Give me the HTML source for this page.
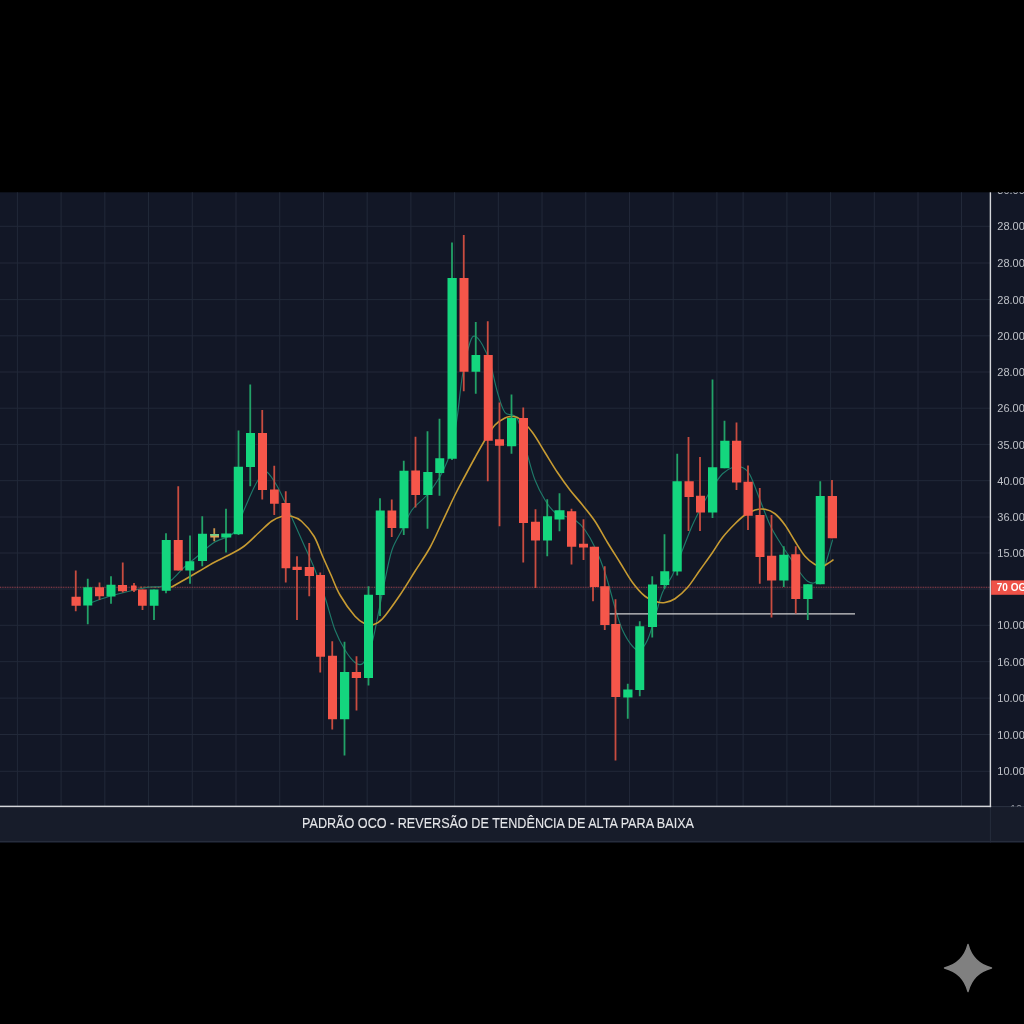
<!DOCTYPE html>
<html lang="pt-BR"><head><meta charset="utf-8"><title>PADRÃO OCO</title>
<style>html,body{margin:0;padding:0;background:#000;}body{width:1024px;height:1024px;overflow:hidden;position:relative;font-family:"Liberation Sans",sans-serif;}svg{position:absolute;left:0;top:0;display:block;will-change:transform}text{-webkit-font-smoothing:antialiased}text{font-family:"Liberation Sans",sans-serif}</style></head><body>
<svg width="1024" height="1024" viewBox="0 0 1024 1024">
<rect x="0" y="0" width="1024" height="1024" fill="#000"/>
<rect x="0" y="192.3" width="1024" height="650.20" fill="#121726"/>
<rect x="0" y="806.4" width="1024" height="36.10" fill="#171c2a"/>
<rect x="0" y="840.90" width="1024" height="1.2" fill="#272d3c"/>
<g stroke="#222939" stroke-width="1" fill="none"><line x1="17.40" y1="192.3" x2="17.40" y2="806.4"/><line x1="61.12" y1="192.3" x2="61.12" y2="806.4"/><line x1="104.84" y1="192.3" x2="104.84" y2="806.4"/><line x1="148.56" y1="192.3" x2="148.56" y2="806.4"/><line x1="192.28" y1="192.3" x2="192.28" y2="806.4"/><line x1="236.00" y1="192.3" x2="236.00" y2="806.4"/><line x1="279.72" y1="192.3" x2="279.72" y2="806.4"/><line x1="323.44" y1="192.3" x2="323.44" y2="806.4"/><line x1="367.16" y1="192.3" x2="367.16" y2="806.4"/><line x1="410.88" y1="192.3" x2="410.88" y2="806.4"/><line x1="454.60" y1="192.3" x2="454.60" y2="806.4"/><line x1="498.32" y1="192.3" x2="498.32" y2="806.4"/><line x1="542.04" y1="192.3" x2="542.04" y2="806.4"/><line x1="585.76" y1="192.3" x2="585.76" y2="806.4"/><line x1="629.48" y1="192.3" x2="629.48" y2="806.4"/><line x1="673.20" y1="192.3" x2="673.20" y2="806.4"/><line x1="716.92" y1="192.3" x2="716.92" y2="806.4"/><line x1="743.10" y1="192.3" x2="743.10" y2="806.4"/><line x1="786.90" y1="192.3" x2="786.90" y2="806.4"/><line x1="830.60" y1="192.3" x2="830.60" y2="806.4"/><line x1="874.30" y1="192.3" x2="874.30" y2="806.4"/><line x1="918.00" y1="192.3" x2="918.00" y2="806.4"/><line x1="961.50" y1="192.3" x2="961.50" y2="806.4"/><line x1="0" y1="226.30" x2="990.4" y2="226.30"/><line x1="0" y1="263.00" x2="990.4" y2="263.00"/><line x1="0" y1="299.60" x2="990.4" y2="299.60"/><line x1="0" y1="335.80" x2="990.4" y2="335.80"/><line x1="0" y1="372.00" x2="990.4" y2="372.00"/><line x1="0" y1="408.20" x2="990.4" y2="408.20"/><line x1="0" y1="444.40" x2="990.4" y2="444.40"/><line x1="0" y1="480.70" x2="990.4" y2="480.70"/><line x1="0" y1="517.00" x2="990.4" y2="517.00"/><line x1="0" y1="553.00" x2="990.4" y2="553.00"/><line x1="0" y1="589.00" x2="990.4" y2="589.00"/><line x1="0" y1="625.30" x2="990.4" y2="625.30"/><line x1="0" y1="661.70" x2="990.4" y2="661.70"/><line x1="0" y1="698.10" x2="990.4" y2="698.10"/><line x1="0" y1="734.50" x2="990.4" y2="734.50"/><line x1="0" y1="771.30" x2="990.4" y2="771.30"/></g>
<line x1="990.4" y1="806.4" x2="990.4" y2="842.5" stroke="#262c3c" stroke-width="1"/>
<line x1="990.4" y1="806.6" x2="1024" y2="806.6" stroke="#2c3242" stroke-width="1"/>
<line x1="0" y1="587.3" x2="990.4" y2="587.3" stroke="#b04a55" stroke-width="1.1" stroke-dasharray="1 0.7" opacity="0.85"/>
<line x1="140" y1="587.2" x2="161" y2="587.2" stroke="#c8653f" stroke-width="1.6" stroke-dasharray="2.2 1.3" opacity="0.65"/>
<path d="M91.50,602.50 C95.25,601.25 104.83,597.50 114.00,595.00 C123.17,592.50 138.58,588.96 146.50,587.50 C154.42,586.04 157.33,587.50 161.50,586.25 C165.67,585.00 167.75,583.12 171.50,580.00 C175.25,576.88 179.42,571.67 184.00,567.50 C188.58,563.33 194.00,559.17 199.00,555.00 C204.00,550.83 208.17,546.25 214.00,542.50 C219.83,538.75 229.00,537.92 234.00,532.50 C239.00,527.08 240.67,517.50 244.00,510.00 C247.33,502.50 251.08,493.33 254.00,487.50 C256.92,481.67 259.33,477.58 261.50,475.00 C263.67,472.42 264.50,470.33 267.00,472.00 C269.50,473.67 273.67,480.33 276.50,485.00 C279.33,489.67 281.08,493.75 284.00,500.00 C286.92,506.25 290.67,515.00 294.00,522.50 C297.33,530.00 300.67,537.50 304.00,545.00 C307.33,552.50 310.50,558.75 314.00,567.50 C317.50,576.25 321.50,587.08 325.00,597.50 C328.50,607.92 331.67,621.25 335.00,630.00 C338.33,638.75 341.67,644.58 345.00,650.00 C348.33,655.42 352.08,660.21 355.00,662.50 C357.92,664.79 360.00,665.83 362.50,663.75 C365.00,661.67 367.92,655.62 370.00,650.00 C372.08,644.38 373.33,637.50 375.00,630.00 C376.67,622.50 378.33,613.33 380.00,605.00 C381.67,596.67 383.00,589.17 385.00,580.00 C387.00,570.83 389.17,558.33 392.00,550.00 C394.83,541.67 398.67,536.67 402.00,530.00 C405.33,523.33 407.83,515.83 412.00,510.00 C416.17,504.17 422.42,500.42 427.00,495.00 C431.58,489.58 436.17,483.00 439.50,477.50 C442.83,472.00 444.83,467.42 447.00,462.00 C449.17,456.58 450.75,452.83 452.50,445.00 C454.25,437.17 455.83,426.67 457.50,415.00 C459.17,403.33 460.42,387.08 462.50,375.00 C464.58,362.92 467.92,348.96 470.00,342.50 C472.08,336.04 472.92,335.83 475.00,336.25 C477.08,336.67 480.00,340.62 482.50,345.00 C485.00,349.38 487.50,354.58 490.00,362.50 C492.50,370.42 495.00,384.17 497.50,392.50 C500.00,400.83 501.67,408.08 505.00,412.50 C508.33,416.92 513.75,411.92 517.50,419.00 C521.25,426.08 524.58,444.83 527.50,455.00 C530.42,465.17 532.08,472.50 535.00,480.00 C537.92,487.50 541.67,494.58 545.00,500.00 C548.33,505.42 551.67,509.79 555.00,512.50 C558.33,515.21 561.67,515.00 565.00,516.25 C568.33,517.50 571.67,517.71 575.00,520.00 C578.33,522.29 581.67,525.42 585.00,530.00 C588.33,534.58 591.67,540.42 595.00,547.50 C598.33,554.58 601.67,562.50 605.00,572.50 C608.33,582.50 612.08,597.92 615.00,607.50 C617.92,617.08 619.58,623.54 622.50,630.00 C625.42,636.46 629.58,642.92 632.50,646.25 C635.42,649.58 637.50,651.04 640.00,650.00 C642.50,648.96 645.00,645.42 647.50,640.00 C650.00,634.58 652.50,625.42 655.00,617.50 C657.50,609.58 659.58,599.58 662.50,592.50 C665.42,585.42 669.17,582.08 672.50,575.00 C675.83,567.92 679.17,558.33 682.50,550.00 C685.83,541.67 689.17,532.50 692.50,525.00 C695.83,517.50 699.17,511.25 702.50,505.00 C705.83,498.75 709.17,492.71 712.50,487.50 C715.83,482.29 719.17,477.08 722.50,473.75 C725.83,470.42 729.17,468.54 732.50,467.50 C735.83,466.46 739.58,466.25 742.50,467.50 C745.42,468.75 747.08,469.58 750.00,475.00 C752.92,480.42 756.67,491.67 760.00,500.00 C763.33,508.33 766.67,517.92 770.00,525.00 C773.33,532.08 776.67,537.08 780.00,542.50 C783.33,547.92 786.67,552.50 790.00,557.50 C793.33,562.50 797.08,568.54 800.00,572.50 C802.92,576.46 805.00,579.58 807.50,581.25 C810.00,582.92 812.50,583.96 815.00,582.50 C817.50,581.04 820.42,576.67 822.50,572.50 C824.58,568.33 825.83,562.92 827.50,557.50 C829.17,552.08 831.67,542.92 832.50,540.00" fill="none" stroke="#1e7a69" stroke-width="1.15" stroke-linejoin="round" stroke-linecap="round"/>
<path d="M171.50,587.00 C173.58,585.83 179.42,582.62 184.00,580.00 C188.58,577.38 194.00,574.17 199.00,571.25 C204.00,568.33 209.00,565.21 214.00,562.50 C219.00,559.79 224.00,557.71 229.00,555.00 C234.00,552.29 239.00,550.00 244.00,546.25 C249.00,542.50 254.42,536.67 259.00,532.50 C263.58,528.33 267.75,523.92 271.50,521.25 C275.25,518.58 278.17,517.33 281.50,516.50 C284.83,515.67 288.17,515.46 291.50,516.25 C294.83,517.04 297.75,517.92 301.50,521.25 C305.25,524.58 310.50,530.46 314.00,536.25 C317.50,542.04 319.67,549.54 322.50,556.00 C325.33,562.46 328.08,568.50 331.00,575.00 C333.92,581.50 336.00,588.12 340.00,595.00 C344.00,601.88 350.83,611.46 355.00,616.25 C359.17,621.04 362.08,622.29 365.00,623.75 C367.92,625.21 369.58,625.83 372.50,625.00 C375.42,624.17 377.92,623.75 382.50,618.75 C387.08,613.75 394.58,602.92 400.00,595.00 C405.42,587.08 410.00,579.17 415.00,571.25 C420.00,563.33 425.50,555.62 430.00,547.50 C434.50,539.38 437.83,531.25 442.00,522.50 C446.17,513.75 451.17,502.75 455.00,495.00 C458.83,487.25 461.67,482.25 465.00,476.00 C468.33,469.75 471.67,463.50 475.00,457.50 C478.33,451.50 481.67,445.42 485.00,440.00 C488.33,434.58 491.67,428.67 495.00,425.00 C498.33,421.33 502.08,419.42 505.00,418.00 C507.92,416.58 510.00,416.33 512.50,416.50 C515.00,416.67 516.67,416.33 520.00,419.00 C523.33,421.67 528.33,426.92 532.50,432.50 C536.67,438.08 540.83,445.83 545.00,452.50 C549.17,459.17 553.33,466.25 557.50,472.50 C561.67,478.75 565.83,484.58 570.00,490.00 C574.17,495.42 578.33,499.79 582.50,505.00 C586.67,510.21 590.83,515.00 595.00,521.25 C599.17,527.50 603.33,535.62 607.50,542.50 C611.67,549.38 615.83,555.83 620.00,562.50 C624.17,569.17 628.33,576.88 632.50,582.50 C636.67,588.12 640.83,593.00 645.00,596.25 C649.17,599.50 654.17,600.96 657.50,602.00 C660.83,603.04 662.08,603.04 665.00,602.50 C667.92,601.96 671.25,601.25 675.00,598.75 C678.75,596.25 683.33,592.29 687.50,587.50 C691.67,582.71 695.83,575.83 700.00,570.00 C704.17,564.17 708.75,557.92 712.50,552.50 C716.25,547.08 718.75,542.29 722.50,537.50 C726.25,532.71 731.25,527.50 735.00,523.75 C738.75,520.00 741.67,517.29 745.00,515.00 C748.33,512.71 751.67,510.96 755.00,510.00 C758.33,509.04 761.67,508.62 765.00,509.25 C768.33,509.88 771.67,511.12 775.00,513.75 C778.33,516.38 781.67,520.42 785.00,525.00 C788.33,529.58 791.67,536.04 795.00,541.25 C798.33,546.46 801.67,552.38 805.00,556.25 C808.33,560.12 812.08,562.88 815.00,564.50 C817.92,566.12 820.42,566.12 822.50,566.00 C824.58,565.88 825.75,564.75 827.50,563.75 C829.25,562.75 832.08,560.62 833.00,560.00" fill="none" stroke="#c79b32" stroke-width="1.6" stroke-linejoin="round" stroke-linecap="round"/>
<line x1="609.5" y1="613.9" x2="855" y2="613.9" stroke="#d0d0d0" stroke-width="1.25"/>
<g><rect x="74.85" y="570.50" width="1.8" height="40.75" fill="#c94c40"/><rect x="86.85" y="578.75" width="1.8" height="45.50" fill="#22a268"/><rect x="98.60" y="582.50" width="1.8" height="17.50" fill="#c94c40"/><rect x="110.10" y="576.25" width="1.8" height="27.50" fill="#22a268"/><rect x="121.85" y="562.50" width="1.8" height="30.00" fill="#c94c40"/><rect x="133.10" y="583.00" width="1.8" height="9.00" fill="#c94c40"/><rect x="141.60" y="589.50" width="1.8" height="20.50" fill="#c94c40"/><rect x="153.10" y="589.50" width="1.8" height="30.50" fill="#22a268"/><rect x="165.10" y="533.25" width="1.8" height="60.00" fill="#22a268"/><rect x="177.35" y="486.25" width="1.8" height="84.25" fill="#c94c40"/><rect x="189.10" y="535.50" width="1.8" height="48.25" fill="#22a268"/><rect x="201.35" y="516.25" width="1.8" height="50.00" fill="#22a268"/><rect x="213.35" y="528.25" width="1.8" height="13.00" fill="#c9924a"/><rect x="225.10" y="508.75" width="1.8" height="43.75" fill="#22a268"/><rect x="237.60" y="430.50" width="1.8" height="104.50" fill="#22a268"/><rect x="249.35" y="384.50" width="1.8" height="101.75" fill="#22a268"/><rect x="261.35" y="410.00" width="1.8" height="89.50" fill="#c94c40"/><rect x="273.35" y="465.75" width="1.8" height="49.25" fill="#c94c40"/><rect x="284.85" y="491.25" width="1.8" height="91.25" fill="#c94c40"/><rect x="296.10" y="556.25" width="1.8" height="63.75" fill="#c94c40"/><rect x="308.35" y="543.00" width="1.8" height="53.25" fill="#c94c40"/><rect x="319.35" y="572.50" width="1.8" height="100.00" fill="#c94c40"/><rect x="331.35" y="641.25" width="1.8" height="88.25" fill="#c94c40"/><rect x="343.60" y="641.75" width="1.8" height="113.75" fill="#22a268"/><rect x="355.60" y="656.25" width="1.8" height="54.25" fill="#c94c40"/><rect x="367.60" y="586.25" width="1.8" height="99.25" fill="#22a268"/><rect x="379.10" y="498.25" width="1.8" height="117.75" fill="#22a268"/><rect x="390.85" y="499.50" width="1.8" height="37.50" fill="#c94c40"/><rect x="402.85" y="460.75" width="1.8" height="74.25" fill="#22a268"/><rect x="414.60" y="436.75" width="1.8" height="70.75" fill="#c94c40"/><rect x="426.60" y="431.25" width="1.8" height="97.50" fill="#22a268"/><rect x="438.60" y="418.75" width="1.8" height="77.00" fill="#22a268"/><rect x="451.10" y="242.50" width="1.8" height="217.50" fill="#22a268"/><rect x="462.85" y="235.00" width="1.8" height="156.25" fill="#c94c40"/><rect x="474.85" y="322.00" width="1.8" height="71.75" fill="#22a268"/><rect x="486.85" y="321.25" width="1.8" height="160.00" fill="#c94c40"/><rect x="498.60" y="402.50" width="1.8" height="123.75" fill="#c94c40"/><rect x="510.60" y="394.50" width="1.8" height="59.25" fill="#22a268"/><rect x="522.35" y="407.50" width="1.8" height="155.00" fill="#c94c40"/><rect x="534.60" y="509.25" width="1.8" height="78.75" fill="#c94c40"/><rect x="546.35" y="499.25" width="1.8" height="57.00" fill="#22a268"/><rect x="558.60" y="493.25" width="1.8" height="38.00" fill="#22a268"/><rect x="570.60" y="508.75" width="1.8" height="55.75" fill="#c94c40"/><rect x="582.60" y="519.25" width="1.8" height="40.75" fill="#c94c40"/><rect x="592.10" y="546.75" width="1.8" height="54.50" fill="#c94c40"/><rect x="603.85" y="566.25" width="1.8" height="63.75" fill="#c94c40"/><rect x="614.60" y="599.25" width="1.8" height="161.25" fill="#c94c40"/><rect x="626.85" y="683.75" width="1.8" height="35.00" fill="#22a268"/><rect x="638.85" y="621.25" width="1.8" height="75.00" fill="#22a268"/><rect x="651.35" y="576.25" width="1.8" height="61.25" fill="#22a268"/><rect x="663.60" y="534.25" width="1.8" height="54.50" fill="#22a268"/><rect x="676.35" y="453.75" width="1.8" height="121.75" fill="#22a268"/><rect x="687.60" y="437.00" width="1.8" height="94.00" fill="#c94c40"/><rect x="699.10" y="457.00" width="1.8" height="74.00" fill="#c94c40"/><rect x="711.60" y="379.50" width="1.8" height="138.50" fill="#22a268"/><rect x="723.60" y="420.75" width="1.8" height="47.50" fill="#22a268"/><rect x="735.60" y="422.50" width="1.8" height="67.50" fill="#c94c40"/><rect x="747.10" y="465.50" width="1.8" height="64.50" fill="#c94c40"/><rect x="758.85" y="488.00" width="1.8" height="95.75" fill="#c94c40"/><rect x="770.60" y="515.00" width="1.8" height="102.50" fill="#c94c40"/><rect x="782.85" y="546.25" width="1.8" height="40.75" fill="#22a268"/><rect x="794.85" y="546.25" width="1.8" height="67.25" fill="#c94c40"/><rect x="806.85" y="584.25" width="1.8" height="35.75" fill="#22a268"/><rect x="819.35" y="481.25" width="1.8" height="103.00" fill="#22a268"/><rect x="831.10" y="480.00" width="1.8" height="58.25" fill="#c94c40"/></g>
<g><rect x="71.50" y="596.75" width="9.25" height="9.00" fill="#f5564a"/><rect x="83.25" y="587.25" width="9.00" height="18.25" fill="#14d67e"/><rect x="95.00" y="587.25" width="9.00" height="9.00" fill="#f5564a"/><rect x="106.50" y="584.75" width="9.00" height="11.75" fill="#14d67e"/><rect x="118.00" y="585.00" width="9.00" height="6.25" fill="#f5564a"/><rect x="131.00" y="585.50" width="5.50" height="5.00" fill="#f5564a"/><rect x="138.00" y="589.50" width="8.75" height="16.25" fill="#f5564a"/><rect x="149.75" y="589.50" width="8.75" height="16.25" fill="#14d67e"/><rect x="161.75" y="540.00" width="9.00" height="50.75" fill="#14d67e"/><rect x="173.75" y="540.00" width="9.00" height="30.50" fill="#f5564a"/><rect x="185.25" y="561.25" width="9.00" height="9.25" fill="#14d67e"/><rect x="198.00" y="533.75" width="9.00" height="27.25" fill="#14d67e"/><rect x="210.25" y="534.00" width="8.75" height="3.50" fill="#e2a35a"/><rect x="210.25" y="534.00" width="8.75" height="1.75" fill="#6fcf8a"/><rect x="221.25" y="533.50" width="10.00" height="4.00" fill="#14d67e"/><rect x="233.75" y="466.75" width="9.25" height="67.50" fill="#14d67e"/><rect x="246.00" y="433.00" width="9.00" height="34.00" fill="#14d67e"/><rect x="258.00" y="433.00" width="9.00" height="57.00" fill="#f5564a"/><rect x="270.00" y="489.50" width="8.75" height="14.25" fill="#f5564a"/><rect x="281.50" y="503.00" width="8.75" height="65.25" fill="#f5564a"/><rect x="292.50" y="566.75" width="9.25" height="3.25" fill="#f5564a"/><rect x="304.75" y="567.00" width="9.25" height="9.00" fill="#f5564a"/><rect x="316.00" y="575.00" width="9.00" height="81.75" fill="#f5564a"/><rect x="328.00" y="655.75" width="9.00" height="63.50" fill="#f5564a"/><rect x="340.00" y="672.00" width="9.25" height="47.25" fill="#14d67e"/><rect x="351.75" y="672.00" width="9.25" height="6.00" fill="#f5564a"/><rect x="364.00" y="594.75" width="9.00" height="83.25" fill="#14d67e"/><rect x="375.75" y="510.50" width="9.00" height="84.50" fill="#14d67e"/><rect x="387.50" y="510.50" width="8.75" height="17.50" fill="#f5564a"/><rect x="399.50" y="470.75" width="9.00" height="57.50" fill="#14d67e"/><rect x="411.25" y="470.50" width="8.75" height="24.50" fill="#f5564a"/><rect x="423.25" y="472.00" width="9.25" height="23.00" fill="#14d67e"/><rect x="435.25" y="458.25" width="9.00" height="14.75" fill="#14d67e"/><rect x="447.50" y="278.00" width="9.25" height="180.75" fill="#14d67e"/><rect x="459.50" y="278.00" width="9.00" height="93.75" fill="#f5564a"/><rect x="471.50" y="355.00" width="8.75" height="16.75" fill="#14d67e"/><rect x="483.75" y="355.00" width="9.00" height="85.75" fill="#f5564a"/><rect x="495.00" y="439.25" width="9.00" height="6.50" fill="#f5564a"/><rect x="507.00" y="418.00" width="9.25" height="28.25" fill="#14d67e"/><rect x="519.00" y="418.00" width="9.00" height="105.00" fill="#f5564a"/><rect x="531.00" y="521.75" width="9.00" height="18.75" fill="#f5564a"/><rect x="543.00" y="516.25" width="9.00" height="24.25" fill="#14d67e"/><rect x="554.50" y="510.25" width="10.00" height="9.25" fill="#14d67e"/><rect x="567.00" y="511.25" width="9.25" height="35.50" fill="#f5564a"/><rect x="579.00" y="543.75" width="9.00" height="3.75" fill="#f5564a"/><rect x="589.75" y="546.75" width="9.25" height="40.25" fill="#f5564a"/><rect x="600.25" y="586.25" width="9.25" height="38.75" fill="#f5564a"/><rect x="611.25" y="624.00" width="9.00" height="73.00" fill="#f5564a"/><rect x="623.25" y="689.50" width="9.25" height="8.00" fill="#14d67e"/><rect x="635.25" y="626.25" width="9.00" height="63.75" fill="#14d67e"/><rect x="648.00" y="584.50" width="9.00" height="42.50" fill="#14d67e"/><rect x="660.25" y="571.25" width="9.00" height="13.75" fill="#14d67e"/><rect x="672.50" y="481.25" width="9.25" height="90.25" fill="#14d67e"/><rect x="684.50" y="481.25" width="9.25" height="15.75" fill="#f5564a"/><rect x="696.00" y="495.75" width="9.00" height="16.75" fill="#f5564a"/><rect x="708.00" y="467.25" width="9.25" height="45.25" fill="#14d67e"/><rect x="720.25" y="440.75" width="9.25" height="27.50" fill="#14d67e"/><rect x="732.00" y="440.75" width="9.25" height="41.75" fill="#f5564a"/><rect x="743.50" y="481.75" width="9.25" height="34.00" fill="#f5564a"/><rect x="755.50" y="515.00" width="9.00" height="42.00" fill="#f5564a"/><rect x="767.00" y="555.75" width="9.25" height="24.75" fill="#f5564a"/><rect x="779.25" y="554.75" width="9.25" height="25.75" fill="#14d67e"/><rect x="791.25" y="554.25" width="9.00" height="44.75" fill="#f5564a"/><rect x="803.25" y="584.25" width="9.25" height="14.75" fill="#14d67e"/><rect x="815.75" y="496.00" width="9.00" height="88.25" fill="#14d67e"/><rect x="827.75" y="496.00" width="9.25" height="42.25" fill="#f5564a"/></g>
<rect x="989.70" y="192.3" width="1.4" height="614.80" fill="#d4d6da"/>
<rect x="0" y="805.65" width="991.10" height="1.5" fill="#d4d6da"/>
<g fill="#bfc2c8" font-size="11px"><text x="997.3" y="230.30">28.00</text><text x="997.3" y="267.00">28.00</text><text x="997.3" y="303.60">28.00</text><text x="997.3" y="339.80">20.00</text><text x="997.3" y="376.10">28.00</text><text x="997.3" y="412.30">26.00</text><text x="997.3" y="448.50">35.00</text><text x="997.3" y="484.80">40.00</text><text x="997.3" y="521.10">36.00</text><text x="997.3" y="557.10">15.00</text><text x="997.3" y="629.40">10.00</text><text x="997.3" y="665.80">16.00</text><text x="997.3" y="702.20">10.00</text><text x="997.3" y="738.60">10.00</text><text x="997.3" y="775.40">10.00</text></g>
<clipPath id="ct"><rect x="991" y="192.3" width="33" height="20"/></clipPath>
<g clip-path="url(#ct)"><text x="997.3" y="194.3" fill="#bfc2c8" font-size="11px">30.00</text></g>
<clipPath id="cb"><rect x="991" y="790" width="33" height="16.40"/></clipPath>
<g clip-path="url(#cb)"><text x="1010" y="813" fill="#9a9da5" font-size="11px">10</text></g>
<rect x="991.1" y="580.4" width="33" height="14.4" fill="#ef5248"/>
<text x="996.8" y="591.3" fill="#ffffff" font-size="10px" font-weight="bold">70 OG</text>
<text x="498" y="828.4" fill="#e6e7ea" stroke="#e6e7ea" stroke-width="0.1" font-size="14.6px" text-anchor="middle" textLength="392" lengthAdjust="spacingAndGlyphs">PADRÃO OCO - REVERSÃO DE TENDÊNCIA DE ALTA PARA BAIXA</text>
<path transform="translate(968,968)" d="M0,-23.5 C3.2,-11 11,-3.2 23.5,0 C11,3.2 3.2,11 0,23.5 C-3.2,11 -11,3.2 -23.5,0 C-11,-3.2 -3.2,-11 0,-23.5Z" fill="#808080" stroke="#808080" stroke-width="1.4" stroke-linejoin="round"/>
</svg></body></html>
